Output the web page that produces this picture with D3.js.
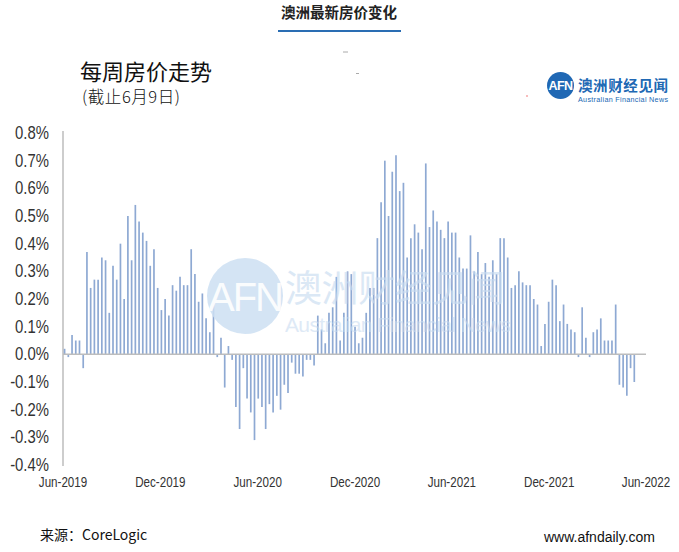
<!DOCTYPE html>
<html><head><meta charset="utf-8">
<script src="https://cdn.jsdelivr.net/npm/d3@7"></script>
<style>
html,body{margin:0;padding:0;background:#fff;}
svg{display:block;}
</style></head>
<body>
<svg id="c" width="679" height="552"></svg>
<script>
// ---- data ----
const firstWeek = "2019-06-04";
const values = [
 0.02,-0.01,0.07,0.05,0.05,-0.05,0.37,0.24,0.27,0.27,
 0.35,0.34,0.15,0.32,0.27,0.40,0.20,0.50,0.34,0.54,
 0.48,0.44,0.41,0.32,0.38,0.24,0.16,0.20,0.14,0.25,
 0.23,0.28,0.25,0.25,0.38,0.29,0.19,0.22,0.13,0.08,
 0.19,-0.01,0.06,-0.12,0.03,-0.02,-0.19,-0.27,-0.05,-0.16,
 -0.21,-0.31,-0.16,-0.19,-0.27,-0.18,-0.21,-0.15,-0.20,-0.11,
 -0.14,-0.03,-0.07,-0.07,-0.08,-0.02,-0.02,-0.04,0.14,0.09,
 0.04,0.15,0.17,0.28,0.05,0.15,0.30,0.29,0.10,0.04,
 0.06,0.15,0.24,0.24,0.42,0.55,0.70,0.50,0.66,0.72,
 0.59,0.62,0.35,0.42,0.47,0.44,0.38,0.69,0.46,0.52,
 0.48,0.45,0.42,0.48,0.44,0.44,0.35,0.31,0.31,0.43,
 0.30,0.37,0.29,0.33,0.28,0.34,0.29,0.42,0.42,0.35,
 0.24,0.25,0.30,0.26,0.25,0.25,0.20,0.18,0.03,0.11,
 0.19,0.27,0.25,0.12,0.18,0.11,0.09,0.08,-0.01,0.17,
 0.06,-0.01,0.08,0.09,0.13,0.05,0.05,0.05,0.18,-0.11,
 -0.12,-0.15,-0.05,-0.10
];
const yTicks = [0.8,0.7,0.6,0.5,0.4,0.3,0.2,0.1,0.0,-0.1,-0.2,-0.3,-0.4];
const xTickDates = ["2019-06-01","2019-12-01","2020-06-01","2020-12-01","2021-06-01","2021-12-01","2022-06-01"];
const xTickLabels = ["Jun-2019","Dec-2019","Jun-2020","Dec-2020","Jun-2021","Dec-2021","Jun-2022"];

// ---- chart ----
const svg = d3.select("#c");
const parse = d3.utcParse("%Y-%m-%d");
const start = parse(firstWeek);
const data = values.map((v,i)=>({date:d3.utcDay.offset(start, 7*i), v}));

const x = d3.scaleUtc().domain([parse(xTickDates[0]), parse(xTickDates[xTickDates.length-1])]).range([63, 646]);
const y = d3.scaleLinear().domain([-0.4, 0.8]).range([465, 133]);

const sans = "'Liberation Sans',Arial,sans-serif";

// header
svg.append("text").attr("x",339).attr("y",18).attr("text-anchor","middle")
  .attr("font-family","'Noto Sans CJK SC',sans-serif").attr("font-weight","bold")
  .attr("font-size",14.5).attr("fill","#222").text("澳洲最新房价变化");
svg.append("line").attr("x1",278).attr("x2",401).attr("y1",31).attr("y2",31)
  .attr("stroke","#2a6db3").attr("stroke-width",1.8);

// titles
svg.append("text").attr("x",80).attr("y",80)
  .attr("font-family","'Noto Sans CJK SC',sans-serif").attr("font-size",22).attr("fill","#111").text("每周房价走势");
svg.append("text").attr("x",82).attr("y",103)
  .attr("font-family","'Noto Sans CJK SC',sans-serif").attr("font-size",16.5).attr("font-weight",300)
  .attr("fill","#111").attr("textLength",98).text("(截止6月9日)");

// small artifact marks
svg.append("line").attr("x1",343).attr("x2",348).attr("y1",52).attr("y2",52).attr("stroke","#aaa").attr("stroke-width",1);
svg.append("line").attr("x1",356).attr("x2",359).attr("y1",73.5).attr("y2",73.5).attr("stroke","#aaa").attr("stroke-width",1);
svg.append("circle").attr("cx",527).attr("cy",96).attr("r",0.8).attr("fill","#e66");

// logo
const logo = svg.append("g");
logo.append("circle").attr("cx",560.5).attr("cy",85.5).attr("r",13.5).attr("fill","#2068b4");
logo.append("text").attr("x",560.5).attr("y",90).attr("text-anchor","middle")
  .attr("font-family",sans).attr("font-size",12.5).attr("font-weight","bold")
  .attr("fill","#fff").attr("letter-spacing",-0.5).text("AFN");
logo.append("text").attr("x",578).attr("y",90.5)
  .attr("font-family","'Noto Sans CJK SC',sans-serif").attr("font-size",14.5).attr("font-weight","bold")
  .attr("fill","#2068b4").attr("textLength",90).text("澳洲财经见闻");
logo.append("text").attr("x",578).attr("y",102)
  .attr("font-family",sans).attr("font-size",7.2)
  .attr("fill","#2068b4").attr("textLength",90).text("Australian Financial News");

// y axis labels (horizontally condensed via transform)
svg.append("g").selectAll("text").data(yTicks).join("text")
  .attr("transform",d=>`translate(49,${y(d)+6}) scale(0.85,1)`)
  .attr("text-anchor","end")
  .attr("font-family",sans).attr("font-size",17.5).attr("fill","#333")
  .text(d=>d.toFixed(1)+"%");

// axis lines
svg.append("line").attr("x1",63).attr("x2",63).attr("y1",131).attr("y2",466)
  .attr("stroke","#bdbdbd").attr("stroke-width",1.5);

// bars
svg.append("g").selectAll("line").data(data).join("line")
  .attr("x1",d=>x(d.date)).attr("x2",d=>x(d.date))
  .attr("y1",y(0)).attr("y2",d=>y(d.v))
  .attr("stroke","#8ea9d3").attr("stroke-width",1.7);

// zero line
svg.append("line").attr("x1",63).attr("x2",646).attr("y1",y(0)).attr("y2",y(0))
  .attr("stroke","#bdbdbd").attr("stroke-width",1.5);

// x labels (condensed)
svg.append("g").selectAll("text").data(xTickDates).join("text")
  .attr("transform",d=>`translate(${x(parse(d))},487) scale(0.8,1)`)
  .attr("text-anchor","middle")
  .attr("font-family",sans).attr("font-size",14.5).attr("fill","#333")
  .text((d,i)=>xTickLabels[i]);

// watermark
const wm = svg.append("g");
wm.append("circle").attr("cx",245).attr("cy",296).attr("r",38).attr("fill","#cddff2").attr("opacity",0.85);
wm.append("text").attr("x",245).attr("y",311).attr("text-anchor","middle")
  .attr("font-family",sans).attr("font-size",40).attr("letter-spacing",-2)
  .attr("fill","#fff").attr("opacity",0.9).text("AFN");
wm.append("text").attr("x",285).attr("y",302)
  .attr("font-family","'Noto Sans CJK SC',sans-serif").attr("font-size",37).attr("textLength",220)
  .attr("fill","#c9dcf1").attr("opacity",0.65).text("澳洲财经见闻");
wm.append("text").attr("x",285).attr("y",332)
  .attr("font-family",sans).attr("font-size",21).attr("textLength",226)
  .attr("fill","#c9dcf1").attr("opacity",0.6).text("Australian Financial News");

// footer
svg.append("text").attr("x",40).attr("y",540)
  .attr("font-family","'Noto Sans CJK SC','Liberation Sans',sans-serif").attr("font-size",14).attr("fill","#111").text("来源：CoreLogic");
svg.append("text").attr("x",655).attr("y",542).attr("text-anchor","end")
  .attr("font-family",sans).attr("font-size",14).attr("fill","#111").text("www.afndaily.com");
</script>
</body></html>
